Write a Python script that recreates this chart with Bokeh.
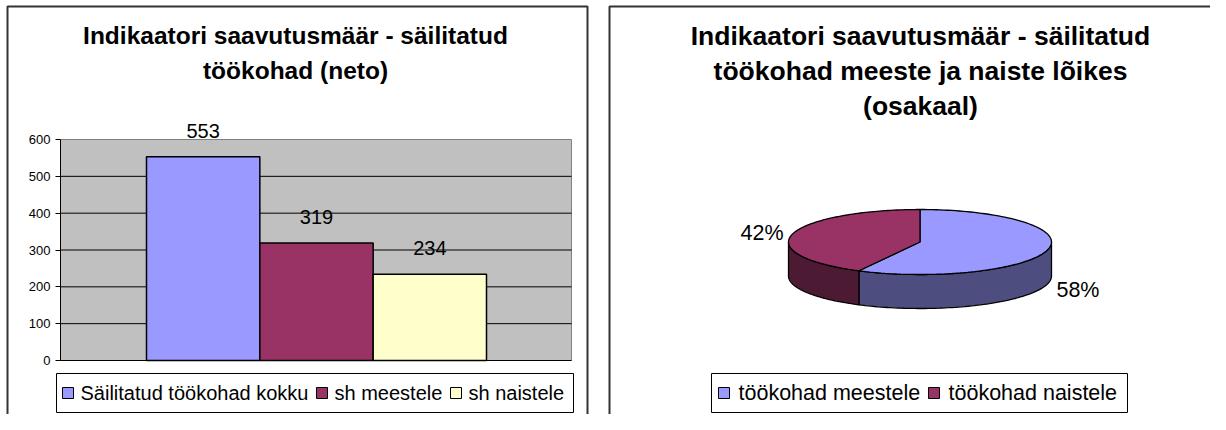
import numpy as np
from bokeh.plotting import figure
from bokeh.models import ColumnDataSource, Range1d, FixedTicker, LinearAxis
from bokeh.core.properties import value
from bokeh.embed import file_html
from bokeh.resources import INLINE

# ---------------- data ----------------
bar_title = ["Indikaatori saavutusmäär - säilitatud", "töökohad (neto)"]
bar_categories = ["Säilitatud töökohad kokku", "sh meestele", "sh naistele"]
bar_values = [553, 319, 234]
bar_colors = ["#9999ff", "#993366", "#ffffcc"]
y_ticks = [0, 100, 200, 300, 400, 500, 600]

pie_title = ["Indikaatori saavutusmäär - säilitatud",
             "töökohad meeste ja naiste lõikes",
             "(osakaal)"]
pie_categories = ["töökohad meestele", "töökohad naistele"]
pie_values = [319, 234]
pie_colors = ["#9999ff", "#993366"]
pie_side_colors = ["#4d4d80", "#4d1a33"]

FONT = "Liberation Sans"
W, H = 1210, 414

# one canvas, data space = canvas pixels (y pointing down)
p = figure(width=W, height=H, x_range=Range1d(0, W), y_range=Range1d(H, 0),
           min_border=0, x_axis_location=None, y_axis_location=None,
           output_backend="svg", toolbar_location=None)
p.outline_line_color = None
p.background_fill_color = "white"
p.border_fill_color = "white"
p.xgrid.grid_line_color = None
p.ygrid.grid_line_color = None

# panel borders
BORDER = "#333333"
p.line(x=[7, 7, 587, 587], y=[H, 6, 6, H], line_color=BORDER, line_width=2)
p.line(x=[609, 609, W], y=[H, 6, 6], line_color=BORDER, line_width=2)

# ---------------- left: bar chart ----------------
plot_l, plot_r, plot_t, plot_b = 60, 571, 139, 360      # plot area (px)
bar_l, bar_r = 146, 486                                  # outer edges of bar cluster (px)
ymax = 600
n = len(bar_categories)
bw = (bar_r - bar_l) / n                                 # px per category
k = ymax / (plot_b - plot_t)                             # value units per px
p.extra_x_ranges = {"bx": Range1d(-bar_l / bw, (W - bar_l) / bw)}
p.extra_y_ranges = {"by": Range1d(-(H - plot_b) * k, ymax + plot_t * k)}

def bx(px):
    return (px - bar_l) / bw

# plot area background + grid lines (on the value scale)
p.quad(left=[bx(plot_l)], right=[bx(plot_r)], bottom=[0], top=[ymax],
       x_range_name="bx", y_range_name="by",
       fill_color="#c0c0c0", line_color="#808080", line_width=1)
grid = [t for t in y_ticks if t < ymax]
p.segment(x0=[bx(plot_l)] * len(grid), x1=[bx(plot_r)] * len(grid), y0=grid, y1=grid,
          x_range_name="bx", y_range_name="by", line_color="black", line_width=1)

src = ColumnDataSource(dict(x=[i + 0.5 for i in range(n)], val=bar_values, color=bar_colors,
                            txt=[str(v) for v in bar_values],
                            ty=[v + 26 * k for v in bar_values]))
p.vbar(x="x", top="val", width=1.0, source=src, x_range_name="bx", y_range_name="by",
       fill_color="color", line_color="black", line_width=1.5)
p.text(x="x", y="ty", text="txt", source=src, x_range_name="bx", y_range_name="by",
       text_align="center", text_baseline="middle",
       text_font=value(FONT), text_font_size="20px", text_color="black")

ax = LinearAxis(y_range_name="by", fixed_location=plot_l, bounds=(0, ymax),
                ticker=FixedTicker(ticks=y_ticks))
ax.axis_line_color = "black"
ax.major_tick_line_color = "black"
ax.major_tick_out = 5
ax.major_tick_in = 0
ax.minor_tick_out = 0
ax.minor_tick_in = 0
ax.major_label_standoff = 5
ax.major_label_text_font = FONT
ax.major_label_text_font_size = "13px"
ax.major_label_text_color = "black"
p.add_layout(ax, "left")

p.text(x=[295] * len(bar_title), y=[35 + 35 * i for i in range(len(bar_title))],
       text=bar_title, text_align="center", text_baseline="middle",
       text_font=value(FONT), text_font_style="bold", text_font_size="24.5px",
       text_color="black")

# legend (left)
LEG_T, LEG_B = 373, 412
leg_y = (LEG_T + LEG_B) / 2
p.quad(left=[56], right=[573], top=[LEG_T], bottom=[LEG_B], fill_color="white",
       line_color="black", line_width=1)
sq1 = [62, 316, 450]
p.rect(x=[s + 5.5 for s in sq1], y=[leg_y] * n, width=11, height=11,
       fill_color=bar_colors, line_color="black", line_width=1)
p.text(x=[s + 18 for s in sq1], y=[leg_y] * n, text=bar_categories,
       text_baseline="middle", text_font=value(FONT), text_font_size="20px",
       text_color="black")

# ---------------- right: 3D-looking pie ----------------
cx, cy = 919.5, 241.5
A, B, D = 131.5, 32.5, 34.0
total = float(sum(pie_values))
fr = np.array(pie_values, dtype=float) / total
bounds = np.concatenate([[0.0], np.cumsum(fr)]) * 2 * np.pi   # clockwise from 12 o'clock

def ell(t, drop=0.0):
    return cx + A * np.sin(t), cy - B * np.cos(t) + drop

side_xs, side_ys, side_cols = [], [], []
top_xs, top_ys = [], []
for i in range(len(pie_values)):
    b0, b1 = bounds[i], bounds[i + 1]
    s0, s1 = max(b0, np.pi / 2), min(b1, 1.5 * np.pi)
    if s1 > s0:
        t = np.linspace(s0, s1, 80)
        x1, y1 = ell(t)
        x2, y2 = ell(t[::-1], D)
        side_xs.append(list(np.concatenate([x1, x2])))
        side_ys.append(list(np.concatenate([y1, y2])))
        side_cols.append(pie_side_colors[i])
    t = np.linspace(b0, b1, 120)
    x1, y1 = ell(t)
    top_xs.append([cx] + list(x1))
    top_ys.append([cy] + list(y1))

p.patches(xs=side_xs, ys=side_ys, fill_color=side_cols, line_color="black", line_width=1.3)
p.patches(xs=top_xs, ys=top_ys, fill_color=pie_colors, line_color="black", line_width=1.3)

lx, ly, lt, la = [], [], [], []
for i, v in enumerate(pie_values):
    m = (bounds[i] + bounds[i + 1]) / 2
    s, c = np.sin(m), np.cos(m)
    lx.append(cx + (A + 9) * s)
    ly.append(cy - (B + 6) * c + (D + 5 if c < 0 else 0))
    lt.append(f"{round(v / total * 100)}%")
    la.append("left" if s > 0 else "right")
p.text(x=lx, y=ly, text=lt, text_align=la, text_baseline="middle",
       text_font=value(FONT), text_font_size="21.5px", text_color="black")

p.text(x=[920] * len(pie_title), y=[35 + 35 * i for i in range(len(pie_title))],
       text=pie_title, text_align="center", text_baseline="middle",
       text_font=value(FONT), text_font_style="bold", text_font_size="26.5px",
       text_color="black")

# legend (right)
p.quad(left=[711], right=[1127], top=[LEG_T], bottom=[LEG_B], fill_color="white",
       line_color="black", line_width=1)
sq2 = [718, 928]
p.rect(x=[s + 5.5 for s in sq2], y=[leg_y] * len(sq2), width=11, height=11,
       fill_color=pie_colors, line_color="black", line_width=1)
p.text(x=[s + 20 for s in sq2], y=[leg_y] * len(sq2), text=pie_categories,
       text_baseline="middle", text_font=value(FONT), text_font_size="21.5px",
       text_color="black")

open("out.html", "w").write(file_html(p, INLINE))
